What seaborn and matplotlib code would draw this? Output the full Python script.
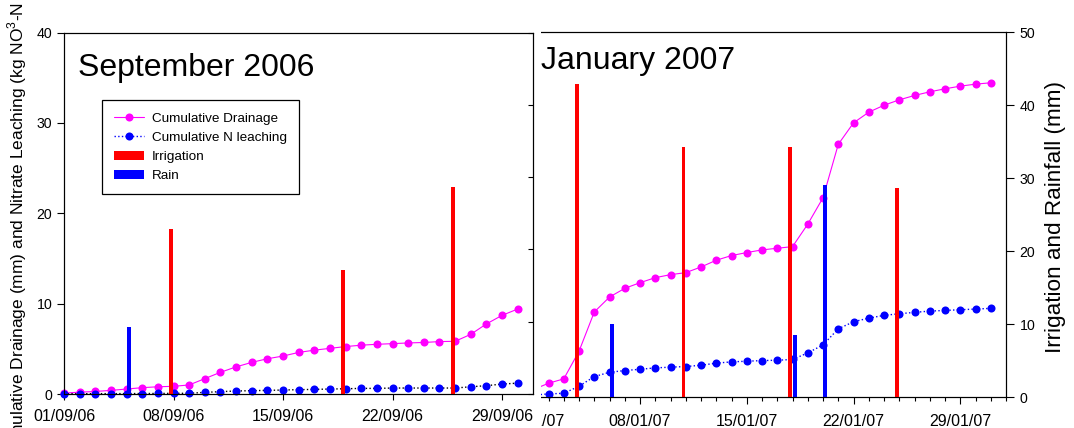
import matplotlib
matplotlib.use("Agg")
import matplotlib.pyplot as plt
import matplotlib.dates as mdates
from matplotlib.lines import Line2D
from matplotlib.patches import Patch, Rectangle
import pandas as pd
import seaborn as sns

# ---------------- data ----------------
sep_dates = pd.date_range("2006-09-01", "2006-09-30", freq="D")
sep_drainage = [0.1, 0.2, 0.28, 0.4, 0.55, 0.7, 0.8, 0.85, 1.0, 1.7,
                2.4, 3.0, 3.5, 3.9, 4.2, 4.6, 4.85, 5.05, 5.25, 5.4,
                5.5, 5.57, 5.65, 5.7, 5.8, 5.83, 6.6, 7.75, 8.7, 9.4]
sep_leaching = [0.03, 0.03, 0.04, 0.04, 0.05, 0.05, 0.06, 0.07, 0.08, 0.18,
                0.26, 0.33, 0.37, 0.40, 0.44, 0.48, 0.51, 0.55, 0.58, 0.62,
                0.62, 0.66, 0.66, 0.66, 0.66, 0.66, 0.80, 0.92, 1.10, 1.20]
sep_irr_dates = pd.to_datetime(["2006-09-08", "2006-09-19", "2006-09-26"])
sep_irr_mm = [22.8, 17.2, 28.6]
sep_rain_dates = pd.to_datetime(["2006-09-05"])
sep_rain_mm = [9.3]

jan_dates = pd.date_range("2007-01-01", "2007-01-31", freq="D")
jan_drainage = [0.84, 1.54, 2.02, 5.05, 9.34, 10.98, 11.93, 12.55, 13.10, 13.43,
                13.65, 14.27, 15.01, 15.52, 15.85, 16.14, 16.32, 16.50, 18.96, 21.85,
                27.70, 30.05, 31.22, 31.98, 32.57, 33.05, 33.45, 33.78, 34.07, 34.29,
                34.44]
jan_leaching = [0.24, 0.37, 0.44, 1.21, 2.27, 2.74, 2.93, 3.07, 3.22, 3.30,
                3.37, 3.51, 3.74, 3.88, 3.95, 4.02, 4.06, 4.14, 4.86, 5.74,
                7.50, 8.27, 8.67, 8.97, 9.15, 9.30, 9.44, 9.51, 9.59, 9.66,
                9.74]
jan_irr_dates = pd.to_datetime(["2007-01-04", "2007-01-11", "2007-01-18", "2007-01-25"])
jan_irr_mm = [42.9, 34.3, 34.3, 28.6]
jan_rain_dates = pd.to_datetime(["2007-01-06", "2007-01-18", "2007-01-20"])
jan_rain_mm = [10.1, 8.5, 29.0]

sep_ticks = pd.to_datetime(["2006-09-01", "2006-09-08", "2006-09-15", "2006-09-22", "2006-09-29"])
jan_ticks = pd.to_datetime(["2007-01-01", "2007-01-08", "2007-01-15", "2007-01-22", "2007-01-29"])
left_yticks = [0, 10, 20, 30, 40]
right_yticks = [0, 10, 20, 30, 40, 50]

legend_labels = ["Cumulative Drainage", "Cumulative N leaching", "Irrigation", "Rain"]
left_ylabel = "Cumulative Drainage (mm) and Nitrate Leaching (kg NO$^{\\mathregular{3}}$-N"
right_ylabel = "Irrigation and Rainfall (mm)"

# ---------------- style ----------------
sns.set_theme(style="ticks")
plt.rcParams["font.family"] = ["Liberation Sans", "DejaVu Sans"]
plt.rcParams["mathtext.fontset"] = "custom"
plt.rcParams["mathtext.rm"] = "Liberation Sans"
plt.rcParams["axes.linewidth"] = 0.8
plt.rcParams["axes.edgecolor"] = "black"
plt.rcParams["text.color"] = "black"
plt.rcParams["axes.labelcolor"] = "black"
plt.rcParams["xtick.color"] = "black"
plt.rcParams["ytick.color"] = "black"

PINK = "#FF00FF"
BLUE = "#0000FF"
RED = "#FF0000"
MS = 5.8

W, H = 1074, 428
fig = plt.figure(figsize=(W / 100, H / 100), dpi=100)
fig.patch.set_facecolor("white")


def fx(px):
    return px / W


def fy(py):
    return 1 - py / H


axR = fig.add_axes([fx(533.3), fy(397.3), fx(1006) - fx(533.3), fy(32) - fy(397.3)])
axL = fig.add_axes([fx(64), fy(394), fx(533.3) - fx(64), fy(32.5) - fy(394)])

irr_shift = pd.Timedelta(hours=-3.6)
rain_shift = pd.Timedelta(hours=3.6)
BW = 0.24


def draw_panel(ax, dates, drain, leach, irr_d, irr_v, rain_d, rain_v, dot_color):
    df = pd.DataFrame({"date": dates, "drain": drain, "leach": leach})
    sns.lineplot(data=df, x="date", y="drain", ax=ax, color=PINK, lw=0.8,
                 marker="o", markersize=MS, markeredgewidth=0, clip_on=False,
                 estimator=None, sort=False, zorder=3)
    sns.lineplot(data=df, x="date", y="leach", ax=ax, color=dot_color, lw=1.0,
                 linestyle=":", estimator=None, sort=False, zorder=3, clip_on=False)
    sns.scatterplot(data=df, x="date", y="leach", ax=ax, color=BLUE, s=MS ** 2,
                    linewidth=0, clip_on=False, zorder=4)
    ax.set_ylim(0, 40)
    ax.set_xlabel("")
    ax.set_ylabel("")
    tw = ax.twinx()
    tw.bar(irr_d + irr_shift, irr_v, width=BW, color=RED, linewidth=0, zorder=2)
    tw.bar(rain_d + rain_shift, rain_v, width=BW, color=BLUE, linewidth=0, zorder=2)
    tw.set_ylim(0, 50)
    tw.set_yticks(right_yticks)
    return tw


# ---- left panel ----
twL = draw_panel(axL, sep_dates, sep_drainage, sep_leaching, sep_irr_dates, sep_irr_mm,
                 sep_rain_dates, sep_rain_mm, "black")
axL.set_xlim(pd.Timestamp("2006-09-01"), pd.Timestamp("2006-10-01"))
axL.set_xticks(sep_ticks)
axL.xaxis.set_major_formatter(mdates.DateFormatter("%d/%m/%y"))
axL.set_yticks(left_yticks)
axL.tick_params(axis="x", direction="out", length=4, width=0.8, pad=6.5, labelsize=11.5)
axL.tick_params(axis="y", direction="out", length=5, width=0.8, pad=3.5, labelsize=10.2)
twL.tick_params(axis="y", direction="in", length=3.5, width=0.8, labelright=False)
for s in axL.spines.values():
    s.set_visible(True)
axL.text(0.030, 0.879, "September 2006", transform=axL.transAxes, fontsize=23,
         ha="left", va="baseline")

handles = [
    Line2D([], [], color=PINK, lw=0.8, marker="o", markersize=MS, markeredgewidth=0),
    Line2D([], [], color=BLUE, lw=1.0, ls=":", marker="o", markersize=MS, markeredgewidth=0),
    Patch(facecolor=RED, edgecolor="none"),
    Patch(facecolor=BLUE, edgecolor="none"),
]
leg = axL.legend(handles, legend_labels, loc="upper left",
                 bbox_to_anchor=((102.2 - 64) / 469.3, (394 - 100.2) / 361.5),
                 borderaxespad=0, fontsize=9.7, frameon=True, fancybox=False,
                 edgecolor="black", framealpha=1, borderpad=0.9, labelspacing=0.48,
                 handlelength=2.2, handletextpad=0.6, handleheight=0.75)
leg.get_frame().set_linewidth(0.9)

# ---- right panel ----
twR = draw_panel(axR, jan_dates, jan_drainage, jan_leaching, jan_irr_dates, jan_irr_mm,
                 jan_rain_dates, jan_rain_mm, BLUE)
axR.set_xlim(pd.Timestamp("2007-01-01"), pd.Timestamp("2007-02-01"))
axR.set_xticks(jan_ticks)
axR.xaxis.set_minor_locator(mdates.DayLocator())
axR.xaxis.set_major_formatter(mdates.DateFormatter("%d/%m/%y"))
axR.tick_params(axis="x", which="major", direction="out", length=5.3, width=0.8,
                pad=6.5, labelsize=11.5)
axR.tick_params(axis="x", which="minor", direction="out", length=2.7, width=0.8)
axR.tick_params(axis="y", left=False, labelleft=False)
axR.spines["left"].set_visible(False)
twR.spines["left"].set_visible(False)
twR.tick_params(axis="y", direction="out", length=5.7, width=0.8, pad=4, labelsize=10.2)
axR.text(0.0173, 0.899, "January 2007", transform=axR.transAxes, fontsize=23,
         ha="left", va="baseline")

# the left graph is laid over the start of the right one: stack order
axR.set_zorder(-3)
twR.set_zorder(-2)
axL.set_zorder(0)
twL.set_zorder(0.5)
fig.patches.append(Rectangle((0, 0), fx(541.2), 1, transform=fig.transFigure,
                             facecolor="white", edgecolor="none", zorder=-1))

fig.text(fx(17), fy(2), left_ylabel, rotation=90, ha="center", va="top", fontsize=12.5)
fig.text(fx(1055.8), fy(217), right_ylabel, rotation=90, ha="center", va="center",
         fontsize=16.2)

fig.savefig("out.png", dpi=100)
